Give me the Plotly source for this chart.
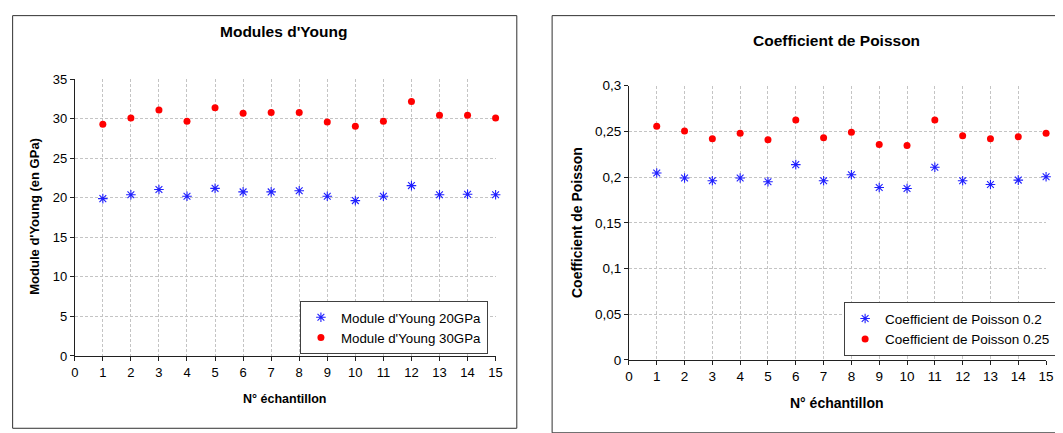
import plotly.graph_objects as go

W, H = 1063, 433

# ---- data ----
samples = list(range(1, 16))
young_20 = [19.9, 20.4, 21.05, 20.2, 21.2, 20.75, 20.75, 20.9, 20.2, 19.65, 20.2, 21.55, 20.4, 20.45, 20.4]
young_30 = [29.3, 30.1, 31.1, 29.7, 31.4, 30.7, 30.8, 30.8, 29.6, 29.05, 29.7, 32.2, 30.45, 30.45, 30.1]
poisson_02 = [0.2044, 0.1989, 0.196, 0.1989, 0.1949, 0.2136, 0.196, 0.2026, 0.1886, 0.1875, 0.2107, 0.196, 0.1919, 0.1967, 0.2004]
poisson_025 = [0.2555, 0.2504, 0.2419, 0.2478, 0.2408, 0.2625, 0.243, 0.2489, 0.2357, 0.2346, 0.2625, 0.2452, 0.2419, 0.2441, 0.2478]

x_ticks = list(range(0, 16))
young_ticks = [0, 5, 10, 15, 20, 25, 30, 35]
poisson_ticks = [0, 0.05, 0.1, 0.15, 0.2, 0.25, 0.3]
poisson_ticktext = ["0", "0,05", "0,1", "0,15", "0,2", "0,25", "0,3"]

FONT = "Liberation Sans, Arial, sans-serif"
BLUE = "#1f1fff"
RED = "#ff0000"

# observed page mapping: out_x = 10.6 + 0.9938*x, out_y = 17.3 + 0.957*y
def px(x):
    d = (x - 10.6) / 0.9938
    return max(0.0, min(1.0, d / W))

def py(y):
    d = (y - 17.3) / 0.957
    return max(0.0, min(1.0, 1 - d / H))

fig = go.Figure()

fig.add_trace(go.Scatter(x=samples, y=young_20, mode="markers", name="Module d'Young 20GPa",
                         marker=dict(symbol="asterisk-open", size=8, color=BLUE, line=dict(color=BLUE, width=1.1)),
                         xaxis="x", yaxis="y", legend="legend", cliponaxis=False))
fig.add_trace(go.Scatter(x=samples, y=young_30, mode="markers", name="Module d'Young 30GPa",
                         marker=dict(symbol="circle", size=7, color=RED),
                         xaxis="x", yaxis="y", legend="legend", cliponaxis=False))
fig.add_trace(go.Scatter(x=samples, y=poisson_02, mode="markers", name="Coefficient de Poisson 0.2",
                         marker=dict(symbol="asterisk-open", size=8, color=BLUE, line=dict(color=BLUE, width=1.1)),
                         xaxis="x2", yaxis="y2", legend="legend2", cliponaxis=False))
fig.add_trace(go.Scatter(x=samples, y=poisson_025, mode="markers", name="Coefficient de Poisson 0.25",
                         marker=dict(symbol="circle", size=7, color=RED),
                         xaxis="x2", yaxis="y2", legend="legend2", cliponaxis=False))

def axis_style(fs):
    return dict(showline=True, linecolor="#202020", linewidth=1, ticks="outside", ticklen=4,
                tickcolor="#202020", showgrid=True, gridcolor="#c4c4c4", griddash="3px,2px", gridwidth=1,
                zeroline=False, tickfont=dict(family=FONT, size=fs, color="#000000"))

legend_common = dict(xanchor="left", yanchor="top", bgcolor="white", bordercolor="#404040", borderwidth=1,
                     itemwidth=30)

fig.update_layout(
    width=W, height=H,
    margin=dict(l=0, r=0, t=0, b=0),
    paper_bgcolor="white", plot_bgcolor="white",
    font=dict(family=FONT, color="#000000"),
    xaxis=dict(domain=[px(73.7), px(496.7)], range=[0, 15], tickvals=x_ticks, anchor="y", **axis_style(13)),
    yaxis=dict(domain=[py(355.3), py(81)], range=[0, 35], tickvals=young_ticks, anchor="x", **axis_style(13)),
    xaxis2=dict(domain=[px(630.7), px(1050)], range=[0, 15], tickvals=x_ticks, anchor="y2", **axis_style(13.5)),
    yaxis2=dict(domain=[py(359.3), py(87.3)], range=[0, 0.3], tickvals=poisson_ticks, ticktext=poisson_ticktext,
                anchor="x2", **axis_style(13.5)),
    legend=dict(x=px(300), y=py(301), font=dict(family=FONT, size=13.3, color="#000000"), **legend_common),
    legend2=dict(x=px(847), y=py(302), font=dict(family=FONT, size=13.5, color="#000000"), **legend_common),
    showlegend=True,
)

shapes = [
    dict(type="rect", xref="paper", yref="paper", x0=px(7.5) + 0.0006, x1=px(518), y0=py(427), y1=py(7.5) - 0.0015,
         line=dict(color="#303030", width=1), fillcolor="rgba(0,0,0,0)", layer="below"),
    dict(type="rect", xref="paper", yref="paper", x0=px(553.5), x1=px(1061), y0=py(431.5), y1=py(2.5) - 0.0015,
         line=dict(color="#303030", width=1), fillcolor="rgba(0,0,0,0)", layer="below"),
]
fig.update_layout(shapes=shapes)

def ann(text, x, y, size, angle=0):
    return dict(text=text, x=px(x), y=py(y), xref="paper", yref="paper", showarrow=False,
                xanchor="center", yanchor="middle",
                textangle=angle, font=dict(family=FONT, size=size, color="#000000"))

fig.update_layout(annotations=[
    ann("<b>Modules d'Young</b>", 283, 34, 15.5),
    ann("<b>Coefficient de Poisson</b>", 839, 43, 15.5),
    ann("<b>N° échantillon</b>", 285, 398, 12.5),
    ann("<b>N° échantillon</b>", 840, 402, 14),
    ann("<b>Module d'Young (en GPa)</b>", 33, 217, 13, -90),
    ann("<b>Coefficient de Poisson</b>", 579, 223, 14, -90),
])

fig.write_html("out.html")
